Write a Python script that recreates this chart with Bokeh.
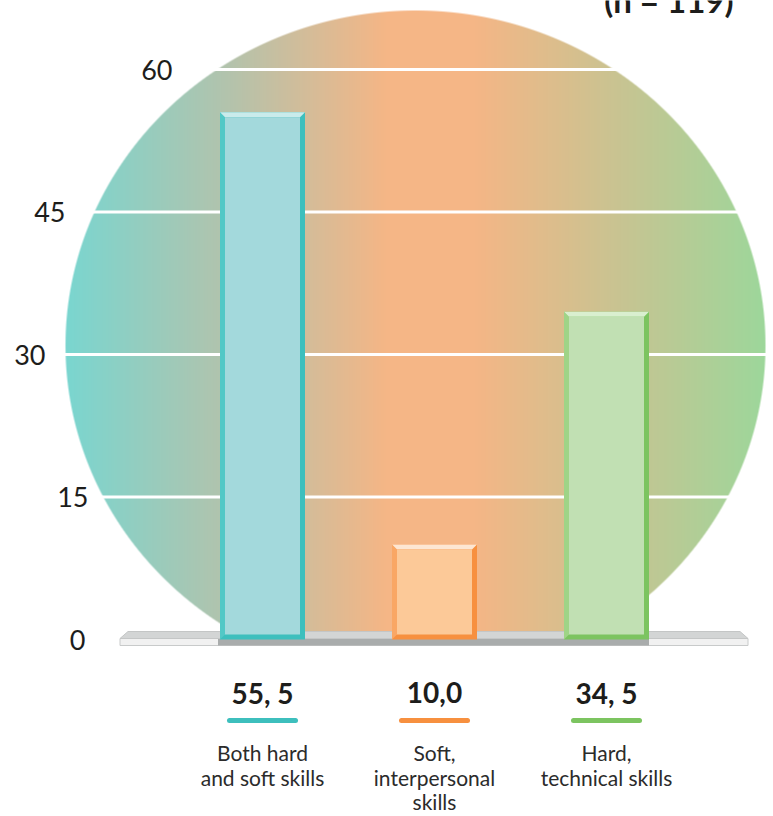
import numpy as np
from bokeh.plotting import figure
from bokeh.models import Range1d, ColumnDataSource
from bokeh.core.properties import value
from bokeh.embed import file_html
from bokeh.resources import INLINE

# ---- data -------------------------------------------------------------
categories = ["Both hard\nand soft skills", "Soft,\ninterpersonal\nskills", "Hard,\ntechnical skills"]
shares = [55.5, 10.0, 34.5]
share_labels = ["55, 5", "10,0", "34, 5"]
ticks = [0, 15, 30, 45, 60]
sample_note = "(n = 119)"

# ---- styling ----------------------------------------------------------
edge_colors = ["#3dbfbd", "#f7903f", "#7cc460"]
side_colors = ["#52c8c6", "#f9a765", "#9fd487"]
face_colors = ["#a3d9dc", "#fcc998", "#c1e0b3"]
top_colors = ["#c9ebeb", "#fde6d2", "#d9efcf"]
TEXT = "#1d1d1b"
FONT = value("Lato")

W, H = 773, 816
PX_PER_X = 172.0           # screen pixels per category step
X_LEFT = 1 - 262 / PX_PER_X
ZERO_PX, SIXTY_PX = 639.0, 69.0
PX_PER_Y = (ZERO_PX - SIXTY_PX) / 60.0   # screen pixels per percentage point
Y_TOP = 60 + SIXTY_PX / PX_PER_Y
TXT_SHIFT = 10             # alphabetic baseline correction for the svg text


def xp(px):
    return X_LEFT + px / PX_PER_X


def yp(py):
    return Y_TOP - py / PX_PER_Y


def dx(px):
    return px / PX_PER_X


def dy(px):
    return px / PX_PER_Y


p = figure(width=W, height=H,
           x_range=Range1d(X_LEFT, X_LEFT + W / PX_PER_X),
           y_range=Range1d(Y_TOP - H / PX_PER_Y, Y_TOP),
           output_backend="svg", toolbar_location=None,
           x_axis_location=None, y_axis_location=None,
           min_border=0, outline_line_color=None)
p.xgrid.visible = False
p.ygrid.visible = False
p.background_fill_color = "white"
p.border_fill_color = "white"

# ---- backdrop: elliptical disc with a horizontal colour gradient ------
EX, EY, EA, EB = 415.0, 345.0, 350.0, 335.0
IMG_H = 650
gx = np.arange(W) + 0.5
gy = np.arange(IMG_H) + 0.5
GX, GY = np.meshgrid(gx, gy)
dist = np.sqrt(((GX - EX) / EA) ** 2 + ((GY - EY) / EB) ** 2)
alpha = np.clip((1 - dist) * min(EA, EB) + 0.5, 0, 1)
alpha[GY > 637] = 0

stop_px = [65, 230, 385, 475, 620, 765]
stop_rgb = [(122, 214, 208), (180, 195, 172), (245, 182, 134), (245, 182, 134),
            (200, 196, 146), (157, 215, 155)]
rgb = [np.interp(gx, stop_px, [c[k] for c in stop_rgb]) for k in range(3)]

img = np.empty((IMG_H, W), dtype=np.uint32)
view = img.view(dtype=np.uint8).reshape((IMG_H, W, 4))
for k in range(3):
    view[:, :, k] = np.broadcast_to(rgb[k], (IMG_H, W)).astype(np.uint8)
view[:, :, 3] = (alpha * 255).astype(np.uint8)
p.image_rgba(image=[img[::-1]], x=xp(0), y=yp(IMG_H),
             dw=W / PX_PER_X, dh=IMG_H / PX_PER_Y)

# ---- grid lines (white, behind the bars) ------------------------------
grid_vals = [t for t in ticks if t > 0]
p.segment(x0=xp(0), x1=xp(W), y0=grid_vals, y1=grid_vals,
          line_color="white", line_width=3)

# ---- platform under the bars ------------------------------------------
pos = [i + 1 for i in range(len(shares))]
hw = dx(42.5)
plat_l, plat_r = pos[0] - hw - dx(100), pos[-1] + hw + dx(99)
base = 0.0
p.quad(left=plat_l, right=plat_r, bottom=base - dy(6), top=base + dy(1),
       fill_color="#f1f1f1", line_color="#c8caca", line_width=1)
p.quad(left=pos[0] - hw - dx(2), right=pos[-1] + hw, bottom=base - dy(6),
       top=base + dy(1), fill_color="#a9acac", line_color=None)
p.patch(x=[plat_l, plat_l + dx(8), plat_r - dx(8), plat_r],
        y=[base + dy(1), base + dy(8), base + dy(8), base + dy(1)],
        fill_color="#d3d5d5", line_color="#c4c6c6", line_width=1)

# ---- bevelled bars ----------------------------------------------------
bw, bh = dx(5), dy(5)
lefts = [c - hw for c in pos]
rights = [c + hw for c in pos]
src = ColumnDataSource(dict(left=lefts, right=rights, top=shares,
                            edge=edge_colors, side=side_colors,
                            face=face_colors))
p.quad(left="left", right="right", bottom=base, top="top",
       fill_color="edge", line_color=None, source=src)
p.patches(xs=[[l, l, l + bw, l + bw] for l in lefts],
          ys=[[base, v, v - bh, base + bh] for v in shares],
          fill_color=side_colors, line_color=None)
p.patches(xs=[[l, r, r - bw, l + bw] for l, r in zip(lefts, rights)],
          ys=[[v, v, v - bh, v - bh] for v in shares],
          fill_color=top_colors, line_color=None)
p.quad(left=[l + bw for l in lefts], right=[r - bw for r in rights],
       bottom=base + bh, top=[v - bh for v in shares],
       fill_color=face_colors, line_color=None)

# ---- value labels with coloured underlines ----------------------------
p.text(x=pos, y=yp(702 - TXT_SHIFT), text=share_labels, text_font=FONT,
       text_font_style="bold", text_font_size="28px", text_align="center",
       text_baseline="alphabetic", text_color=TEXT)
p.segment(x0=[c - dx(33) for c in pos], x1=[c + dx(33) for c in pos],
          y0=yp(720), y1=yp(720), line_color=edge_colors, line_width=5,
          line_cap="round")

# ---- category names ---------------------------------------------------
lx, ly, lt = [], [], []
for c, name in zip(pos, categories):
    for j, line in enumerate(name.split("\n")):
        lx.append(c)
        ly.append(yp(762 + 24.5 * j - TXT_SHIFT))
        lt.append(line)
p.text(x=lx, y=ly, text=lt, text_font=FONT, text_font_size="21px",
       text_align="center", text_baseline="alphabetic", text_color="#2b2b2b")

# ---- value axis labels, set just outside the disc ---------------------
tick_right_px = [85, 88, 45, 65, 172]
p.text(x=[xp(r) for r in tick_right_px], y=ticks, text=[str(t) for t in ticks],
       text_font=FONT, text_font_size="27px", text_align="right",
       text_baseline="middle", text_color=TEXT)

# ---- sample size note (runs off the top edge) -------------------------
p.text(x=[xp(733)], y=[yp(12 - 13)], text=[sample_note], text_font=FONT,
       text_font_style="bold", text_font_size="33px", text_align="right",
       text_baseline="alphabetic", text_color=TEXT)

open("out.html", "w").write(file_html(p, INLINE))
